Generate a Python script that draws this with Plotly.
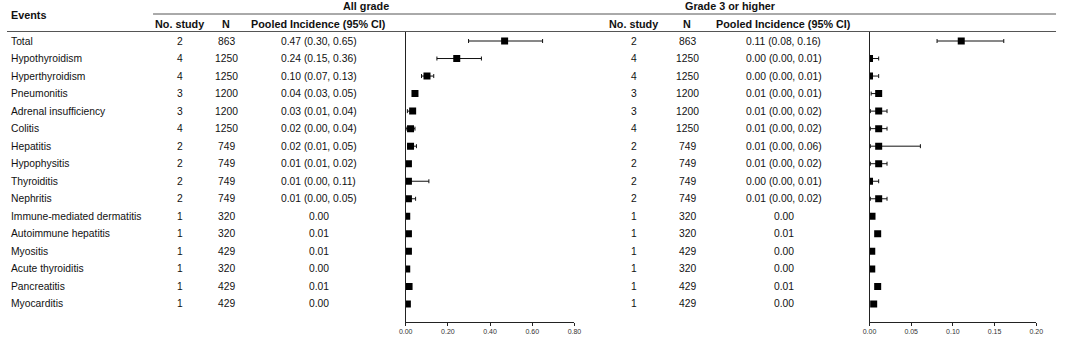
import plotly.graph_objects as go

W, H = 1065, 338

events = ["Total", "Hypothyroidism", "Hyperthyroidism", "Pneumonitis", "Adrenal insufficiency",
          "Colitis", "Hepatitis", "Hypophysitis", "Thyroiditis", "Nephritis",
          "Immune-mediated dermatitis", "Autoimmune hepatitis", "Myositis", "Acute thyroiditis",
          "Pancreatitis", "Myocarditis"]

# All grade
all_nstudy = [2, 4, 4, 3, 3, 4, 2, 2, 2, 2, 1, 1, 1, 1, 1, 1]
all_n = [863, 1250, 1250, 1200, 1200, 1250, 749, 749, 749, 749, 320, 320, 429, 320, 429, 429]
all_text = ["0.47 (0.30, 0.65)", "0.24 (0.15, 0.36)", "0.10 (0.07, 0.13)", "0.04 (0.03, 0.05)",
            "0.03 (0.01, 0.04)", "0.02 (0.00, 0.04)", "0.02 (0.01, 0.05)", "0.01 (0.01, 0.02)",
            "0.01 (0.00, 0.11)", "0.01 (0.00, 0.05)", "0.00", "0.01", "0.01", "0.00", "0.01", "0.00"]
all_est = [0.469, 0.242, 0.101, 0.044, 0.033, 0.023, 0.023, 0.013, 0.013, 0.013,
           0.005, 0.013, 0.013, 0.005, 0.016, 0.008]
all_lo = [0.298, 0.148, 0.075, 0.036, 0.008, 0.002, 0.010, 0.008, 0.002, 0.002,
          None, None, None, None, None, None]
all_hi = [0.649, 0.359, 0.133, 0.050, 0.040, 0.044, 0.051, 0.020, 0.110, 0.047,
          None, None, None, None, None, None]

# Grade 3 or higher
g3_nstudy = [2, 4, 4, 3, 3, 4, 2, 2, 2, 2, 1, 1, 1, 1, 1, 1]
g3_n = [863, 1250, 1250, 1200, 1200, 1250, 749, 749, 749, 749, 320, 320, 429, 320, 429, 429]
g3_text = ["0.11 (0.08, 0.16)", "0.00 (0.00, 0.01)", "0.00 (0.00, 0.01)", "0.01 (0.00, 0.01)",
           "0.01 (0.00, 0.02)", "0.01 (0.00, 0.02)", "0.01 (0.00, 0.06)", "0.01 (0.00, 0.02)",
           "0.00 (0.00, 0.01)", "0.01 (0.00, 0.02)", "0.00", "0.01", "0.00", "0.00", "0.01", "0.00"]
g3_est = [0.110, 0.000, 0.000, 0.011, 0.011, 0.011, 0.011, 0.011, 0.000, 0.011,
          0.003, 0.0098, 0.0027, 0.0027, 0.0098, 0.005]
g3_lo = [0.081, 0.000, 0.000, 0.002, 0.001, 0.001, 0.001, 0.001, 0.000, 0.001,
         None, None, None, None, None, None]
g3_hi = [0.161, 0.011, 0.011, 0.012, 0.021, 0.021, 0.061, 0.021, 0.011, 0.021,
         None, None, None, None, None, None]

left_ticks = [0.0, 0.2, 0.4, 0.6, 0.8]
right_ticks = [0.0, 0.05, 0.10, 0.15, 0.20]

FONT = "Arial, Liberation Sans, sans-serif"
FS = 10.3
FS_HEAD = 10.8
rows = list(range(len(events)))

# layout in pixels
ROW0, ROWSTEP = 41.0, 17.53
PLOT_TOP, PLOT_BOT = 32.0, 322.0


def px(x):
    return x / W


def py(y):
    return 1 - y / H


y_lo = (PLOT_BOT - ROW0) / ROWSTEP
y_hi = (PLOT_TOP - ROW0) / ROWSTEP

fig = go.Figure()


def add_forest(est, lo, hi, xa, ya):
    ci_idx = [i for i in rows if lo[i] is not None]
    no_idx = [i for i in rows if lo[i] is None]
    fig.add_trace(go.Scatter(
        x=[est[i] for i in ci_idx], y=ci_idx, mode="markers",
        marker=dict(symbol="square", size=7, color="black"),
        error_x=dict(type="data", symmetric=False,
                     array=[hi[i] - est[i] for i in ci_idx],
                     arrayminus=[est[i] - lo[i] for i in ci_idx],
                     color="#111", thickness=1, width=2),
        xaxis=xa, yaxis=ya, showlegend=False, hoverinfo="skip"))
    fig.add_trace(go.Scatter(
        x=[est[i] for i in no_idx], y=no_idx, mode="markers",
        marker=dict(symbol="square", size=7, color="black"),
        xaxis=xa, yaxis=ya, showlegend=False, hoverinfo="skip"))


add_forest(all_est, all_lo, all_hi, "x", "y")
add_forest(g3_est, g3_lo, g3_hi, "x2", "y2")

axis_common = dict(showgrid=False, zeroline=False, showline=True, linecolor="#222", linewidth=1,
                   ticks="outside", ticklen=3, tickcolor="#222", tickformat=".2f",
                   tickfont=dict(family=FONT, size=7, color="#333"), fixedrange=True)
ydom = [py(PLOT_BOT), py(PLOT_TOP)]
fig.update_layout(
    width=W, height=H, margin=dict(l=0, r=0, t=0, b=0),
    paper_bgcolor="white", plot_bgcolor="white",
    font=dict(family=FONT, size=FS, color="#111"),
    xaxis=dict(domain=[px(404), px(575)], range=[0, 0.8], tickvals=left_ticks,
               anchor="y", **axis_common),
    yaxis=dict(domain=ydom, range=[y_lo, y_hi], showgrid=False, zeroline=False,
               showline=True, linecolor="#222", linewidth=1, showticklabels=False,
               ticks="", anchor="x", fixedrange=True),
    xaxis2=dict(domain=[px(874), px(1043)], range=[0, 0.2], tickvals=right_ticks,
                anchor="y2", **axis_common),
    yaxis2=dict(domain=ydom, range=[y_lo, y_hi], showgrid=False, zeroline=False,
                showline=True, linecolor="#222", linewidth=1, showticklabels=False,
                ticks="", anchor="x2", fixedrange=True),
)

ann = []


def txt(x, y, s, anchor="center", bold=False, yref="paper"):
    ann.append(dict(x=px(x), y=y, xref="paper", yref=yref, text=("<b>%s</b>" % s) if bold else s,
                    showarrow=False, xanchor=anchor, yanchor="middle", borderpad=0,
                    font=dict(family=FONT, size=FS_HEAD if bold else FS, color="#111")))


# headers
txt(3, py(15), "Events", anchor="left", bold=True)
txt(388, py(6), "All grade", anchor="right", bold=True)
txt(733, py(6), "Grade 3 or higher", anchor="center", bold=True)
txt(175, py(24), "No. study", bold=True)
txt(222, py(24), "N", bold=True)
txt(316, py(24), "Pooled Incidence (95% CI)", bold=True)
txt(635, py(24), "No. study", bold=True)
txt(689, py(24), "N", bold=True)
txt(787, py(24), "Pooled Incidence (95% CI)", bold=True)

for i in rows:
    txt(3, i, events[i], anchor="left", yref="y")
    txt(175, i, str(all_nstudy[i]), yref="y")
    txt(222, i, str(all_n[i]), yref="y")
    txt(316, i, all_text[i], yref="y")
    txt(635, i, str(g3_nstudy[i]), yref="y")
    txt(690, i, str(g3_n[i]), yref="y")
    txt(787, i, g3_text[i], yref="y")

fig.update_layout(annotations=ann)

fig.update_layout(shapes=[
    dict(type="line", xref="paper", yref="paper", x0=px(148), x1=px(1063), y0=py(14), y1=py(14),
         line=dict(color="#555", width=1)),
    dict(type="line", xref="paper", yref="paper", x0=0, x1=px(1063), y0=py(31.5), y1=py(31.5),
         line=dict(color="#555", width=1)),
])

fig.write_html("out.html", config={"displayModeBar": False},
               post_script="document.body.style.margin='0px';document.body.style.overflow='hidden';")
